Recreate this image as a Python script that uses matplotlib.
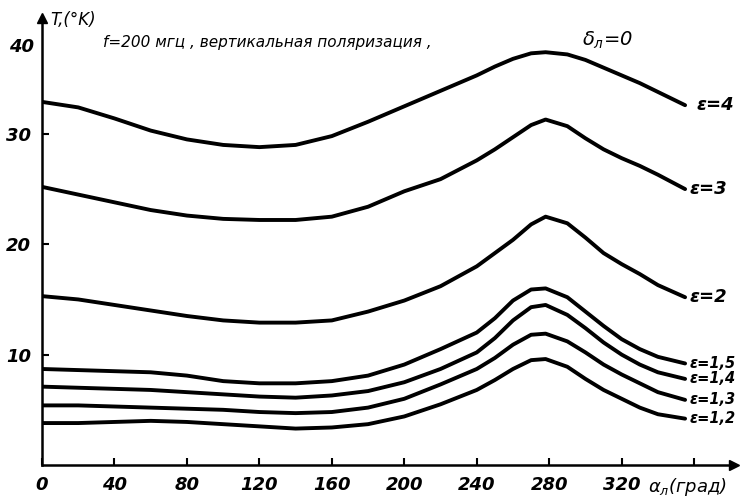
import matplotlib
matplotlib.use('Agg')
import matplotlib.pyplot as plt

# угол alpha_л, град
alpha = [0, 20, 40, 60, 80, 100, 120, 140, 160, 180, 200, 220, 240, 250,
         260, 270, 278, 290, 300, 310, 320, 330, 340, 355]

# T (°K) для каждого eps
t_eps4 = [32.9, 32.4, 31.4, 30.3, 29.5, 29.0, 28.8, 29.0, 29.8, 31.1, 32.5, 33.9,
          35.3, 36.1, 36.8, 37.3, 37.4, 37.2, 36.7, 36.0, 35.3, 34.6, 33.8, 32.6]
t_eps3 = [25.2, 24.5, 23.8, 23.1, 22.6, 22.3, 22.2, 22.2, 22.5, 23.4, 24.8, 25.9,
          27.6, 28.6, 29.7, 30.8, 31.3, 30.7, 29.6, 28.6, 27.8, 27.1, 26.3, 25.0]
t_eps2 = [15.3, 15.0, 14.5, 14.0, 13.5, 13.1, 12.9, 12.9, 13.1, 13.9, 14.9, 16.2,
          18.0, 19.2, 20.4, 21.8, 22.5, 21.9, 20.6, 19.2, 18.2, 17.3, 16.3, 15.2]
t_eps15 = [8.7, 8.6, 8.5, 8.4, 8.1, 7.6, 7.4, 7.4, 7.6, 8.1, 9.1, 10.5,
           12.0, 13.3, 14.9, 15.9, 16.0, 15.2, 13.9, 12.6, 11.4, 10.5, 9.8, 9.2]
t_eps14 = [7.1, 7.0, 6.9, 6.8, 6.6, 6.4, 6.2, 6.1, 6.3, 6.7, 7.5, 8.7,
           10.2, 11.5, 13.1, 14.3, 14.5, 13.6, 12.4, 11.1, 10.0, 9.1, 8.4, 7.8]
t_eps13 = [5.4, 5.4, 5.3, 5.2, 5.1, 5.0, 4.8, 4.7, 4.8, 5.2, 6.0, 7.3,
           8.7, 9.7, 10.9, 11.8, 11.9, 11.2, 10.2, 9.1, 8.2, 7.4, 6.6, 5.9]
t_eps12 = [3.8, 3.8, 3.9, 4.0, 3.9, 3.7, 3.5, 3.3, 3.4, 3.7, 4.4, 5.5,
           6.8, 7.7, 8.7, 9.5, 9.6, 8.9, 7.8, 6.8, 6.0, 5.2, 4.6, 4.2]

courbes = [t_eps4, t_eps3, t_eps2, t_eps15, t_eps14, t_eps13, t_eps12]
noms = ['ε=4', 'ε=3', 'ε=2', 'ε=1,5', 'ε=1,4', 'ε=1,3', 'ε=1,2']

x_ticks = [0, 40, 80, 120, 160, 200, 240, 280, 320, 360]
x_labels = ['0', '40', '80', '120', '160', '200', '240', '280', '320', '']
y_ticks = [10, 20, 30]
y_labels = ['10', '20', '30']

plt.rcParams['font.family'] = ['DejaVu Sans']
plt.rcParams['font.style'] = 'italic'
plt.rcParams['mathtext.fontset'] = 'dejavusans'

fig = plt.figure(figsize=(7.54, 5.04), dpi=100)
ax = fig.add_axes([42/754, 39/504, 692/754, 447/504])

for t, nom in zip(courbes, noms):
    ax.plot(alpha, t, color='black', lw=2.8, solid_capstyle='round', solid_joinstyle='round')
    dx = 8 if nom == 'ε=4' else 3
    taille = 13 if len(nom) == 3 else 10.5
    ax.annotate(nom, xy=(alpha[-1], t[-1]), xytext=(dx, 0), textcoords='offset points',
                va='center', ha='left', fontsize=taille, fontweight='bold')

ax.set_xlim(0, 382)
ax.set_ylim(0, 40.5)
ax.spines['top'].set_visible(False)
ax.spines['right'].set_visible(False)
ax.spines['left'].set_linewidth(1.8)
ax.spines['bottom'].set_linewidth(1.8)
ax.plot(1, 0, '>k', ms=7, transform=ax.transAxes, clip_on=False)
ax.plot(0, 1, '^k', ms=7, transform=ax.transAxes, clip_on=False)

ax.set_xticks(x_ticks)
ax.set_xticklabels(x_labels)
ax.set_yticks(y_ticks)
ax.set_yticklabels(y_labels)
ax.tick_params(direction='in', length=5, width=1.5, labelsize=13, pad=8)
for lab in ax.get_xticklabels() + ax.get_yticklabels():
    lab.set_fontweight('bold')

ax.text(-0.012, 0.935, '40', transform=ax.transAxes, ha='right', va='center',
        fontsize=13, fontweight='bold')
ax.text(0.012, 0.995, 'T,(°K)', transform=ax.transAxes, ha='left', va='center', fontsize=12)
ax.text(0.088, 0.945, 'f=200 мгц , вертикальная поляризация ,', transform=ax.transAxes,
        ha='left', va='center', fontsize=11)
ax.text(0.78, 0.95, r'$\delta_{л}$=0', transform=ax.transAxes, ha='left', va='center', fontsize=14)
ax.text(0.875, -0.05, r'$\alpha_{л}$(град)', transform=ax.transAxes, ha='left', va='center', fontsize=13)

plt.savefig('out.png', dpi=100)
